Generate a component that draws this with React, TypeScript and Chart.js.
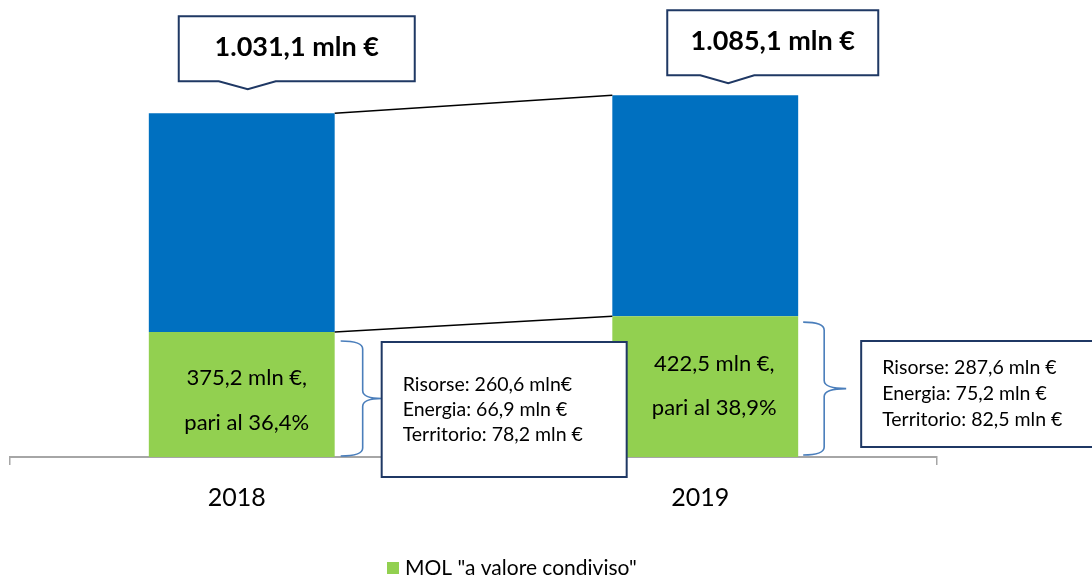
import React, { useEffect, useRef } from "react";
import { Chart, registerables } from "chart.js";

Chart.register(...registerables);

// ---------- data ----------
const YEARS = ["2018", "2019"];
const SHARED_MOL = [375.2, 422.5]; // MOL "a valore condiviso"
const OTHER_MOL = [655.9, 662.6]; // remaining MOL (total - shared)
const TOTAL_LABELS = ["1.031,1 mln €", "1.085,1 mln €"];
const SHARE_LINE1 = ["375,2 mln €,", "422,5 mln €,"];
const SHARE_LINE2 = ["pari al 36,4%", "pari al 38,9%"];
const BREAKDOWN_2018 = ["Risorse: 260,6 mln€", "Energia: 66,9 mln €", "Territorio: 78,2 mln €"];
const BREAKDOWN_2019 = ["Risorse: 287,6 mln €", "Energia: 75,2 mln €", "Territorio: 82,5 mln €"];
const LEGEND_LABEL = 'MOL "a valore condiviso"';

// ---------- styles ----------
const FONT = "Lato, 'Open Sans', sans-serif";
const GREEN = "#92D050";
const BLUE = "#0070C0";
const NAVY = "#1F3864";
const BRACE = "#4A7EBB";
const AXIS = "#A6A6A6";

// per-year annotation layout (offsets relative to the bar elements)
const CALLOUT = [
  { left: -63, width: 236, height: 65, gap: 32, ptrL: -23, ptrR: 34, tipX: 6, tipDepth: 8 },
  { left: -38, width: 211, height: 65, gap: 20, ptrL: -5, ptrR: 49, tipX: 23, tipDepth: 8 },
];
const SHARE_TEXT = [
  { dx: 5, y1: 46, y2: 91 },
  { dx: 9, y1: 48, y2: 92 },
];
const BRACES = [
  { x0: 6, x1: 28, tip: 47, topOff: 9, botOff: -1 },
  { x0: 5, x1: 26, tip: 48, topOff: 6, botOff: -2 },
];
const BOXES = [
  { left: 47, width: 245, top: -115, height: 135, lineH: 25 },
  { left: 63, width: 245, top: -116, height: 106, lineH: 26 },
];

const overlayPlugin = {
  id: "overlay",
  afterDatasetsDraw(chart: any) {
    const ctx: CanvasRenderingContext2D = chart.ctx;
    const green = chart.getDatasetMeta(0).data.map((e: any) => e.getProps(["x", "y", "width", "base"], true));
    const blue = chart.getDatasetMeta(1).data.map((e: any) => e.getProps(["x", "y", "width", "base"], true));
    const base = chart.scales.y.getPixelForValue(0);
    ctx.save();

    // connecting lines between bar tops
    ctx.strokeStyle = "#000";
    ctx.lineWidth = 1.5;
    for (const set of [blue, green]) {
      ctx.beginPath();
      ctx.moveTo(set[0].x + set[0].width / 2, set[0].y);
      ctx.lineTo(set[1].x - set[1].width / 2, set[1].y);
      ctx.stroke();
    }

    // text inside green segments
    ctx.fillStyle = "#000";
    ctx.font = `22px ${FONT}`;
    ctx.textAlign = "center";
    ctx.textBaseline = "middle";
    green.forEach((p: any, i: number) => {
      const st = SHARE_TEXT[i];
      ctx.fillText(SHARE_LINE1[i], p.x + st.dx, p.y + st.y1);
      ctx.fillText(SHARE_LINE2[i], p.x + st.dx, p.y + st.y2);
    });

    // braces
    ctx.strokeStyle = BRACE;
    ctx.lineWidth = 1.6;
    green.forEach((p: any, i: number) => {
      const br = BRACES[i];
      const right = p.x + p.width / 2;
      const x0 = right + br.x0;
      const x1 = right + br.x1;
      const xt = right + br.tip;
      const yT = p.y + br.topOff;
      const yB = base + br.botOff;
      const yM = (yT + yB) / 2;
      const r = 8;
      ctx.beginPath();
      ctx.moveTo(x0, yT);
      ctx.quadraticCurveTo(x1, yT, x1, yT + r);
      ctx.lineTo(x1, yM - r);
      ctx.quadraticCurveTo(x1, yM, xt, yM);
      ctx.quadraticCurveTo(x1, yM, x1, yM + r);
      ctx.lineTo(x1, yB - r);
      ctx.quadraticCurveTo(x1, yB, x0, yB);
      ctx.stroke();
    });

    // breakdown boxes
    const breakdowns = [BREAKDOWN_2018, BREAKDOWN_2019];
    green.forEach((p: any, i: number) => {
      const bx = BOXES[i];
      const left = p.x + p.width / 2 + bx.left;
      const top = base + bx.top;
      ctx.fillStyle = "#fff";
      ctx.fillRect(left, top, bx.width, bx.height);
      ctx.strokeStyle = NAVY;
      ctx.lineWidth = 2;
      ctx.strokeRect(left, top, bx.width, bx.height);
      ctx.fillStyle = "#000";
      ctx.font = `19.5px ${FONT}`;
      ctx.textAlign = "left";
      ctx.textBaseline = "middle";
      const lines = breakdowns[i];
      const mid = top + bx.height / 2;
      lines.forEach((t, k) => {
        ctx.fillText(t, left + 21, mid + (k - (lines.length - 1) / 2) * bx.lineH);
      });
    });

    // callouts with totals
    blue.forEach((p: any, i: number) => {
      const c = CALLOUT[i];
      const left = p.x + c.left;
      const right = left + c.width;
      const bottom = p.y - c.gap;
      const top = bottom - c.height;
      ctx.beginPath();
      ctx.moveTo(left, top);
      ctx.lineTo(right, top);
      ctx.lineTo(right, bottom);
      ctx.lineTo(p.x + c.ptrR, bottom);
      ctx.lineTo(p.x + c.tipX, bottom + c.tipDepth);
      ctx.lineTo(p.x + c.ptrL, bottom);
      ctx.lineTo(left, bottom);
      ctx.closePath();
      ctx.fillStyle = "#fff";
      ctx.fill();
      ctx.strokeStyle = NAVY;
      ctx.lineWidth = 2;
      ctx.stroke();
      ctx.fillStyle = "#000";
      ctx.font = `bold 27px ${FONT}`;
      ctx.textAlign = "center";
      ctx.textBaseline = "middle";
      ctx.fillText(TOTAL_LABELS[i], (left + right) / 2, (top + bottom) / 2 - 2);
    });

    // legend (only the shared-value series)
    ctx.fillStyle = GREEN;
    ctx.fillRect(387, 562, 12, 12);
    ctx.fillStyle = "#000";
    ctx.font = `21px ${FONT}`;
    ctx.textAlign = "left";
    ctx.textBaseline = "middle";
    ctx.fillText(LEGEND_LABEL, 405, 568);

    ctx.restore();
  },
};

export default function App() {
  const canvasRef = useRef<HTMLCanvasElement | null>(null);

  useEffect(() => {
    document.body.style.margin = "0";
    const canvas = canvasRef.current;
    if (!canvas) return;
    const chart = new Chart(canvas, {
      type: "bar",
      data: {
        labels: YEARS,
        datasets: [
          {
            label: LEGEND_LABEL,
            data: SHARED_MOL,
            backgroundColor: GREEN,
            borderWidth: 0,
            categoryPercentage: 0.401,
            barPercentage: 1,
          },
          {
            label: "MOL",
            data: OTHER_MOL,
            backgroundColor: BLUE,
            borderWidth: 0,
            categoryPercentage: 0.401,
            barPercentage: 1,
          },
        ],
      },
      options: {
        animation: false,
        responsive: true,
        maintainAspectRatio: false,
        layout: { padding: { left: 10, right: 155, top: 17, bottom: 46 } },
        plugins: {
          legend: { display: false },
          tooltip: { enabled: false },
        },
        scales: {
          x: {
            stacked: true,
            grid: {
              display: true,
              drawOnChartArea: false,
              drawTicks: true,
              tickLength: 8,
              color: AXIS,
              lineWidth: 1.5,
              offset: true,
            },
            border: { display: true, color: AXIS, width: 2 },
            ticks: {
              color: "#000",
              font: { family: FONT, size: 25 },
              padding: 18,
              labelOffset: -5,
            },
          },
          y: {
            stacked: true,
            display: false,
            min: 0,
            max: 1320,
          },
        },
      },
      plugins: [overlayPlugin],
    });
    return () => chart.destroy();
  }, []);

  return (
    <div style={{ width: 1092, height: 577, position: "relative" }}>
      <canvas ref={canvasRef} />
    </div>
  );
}
